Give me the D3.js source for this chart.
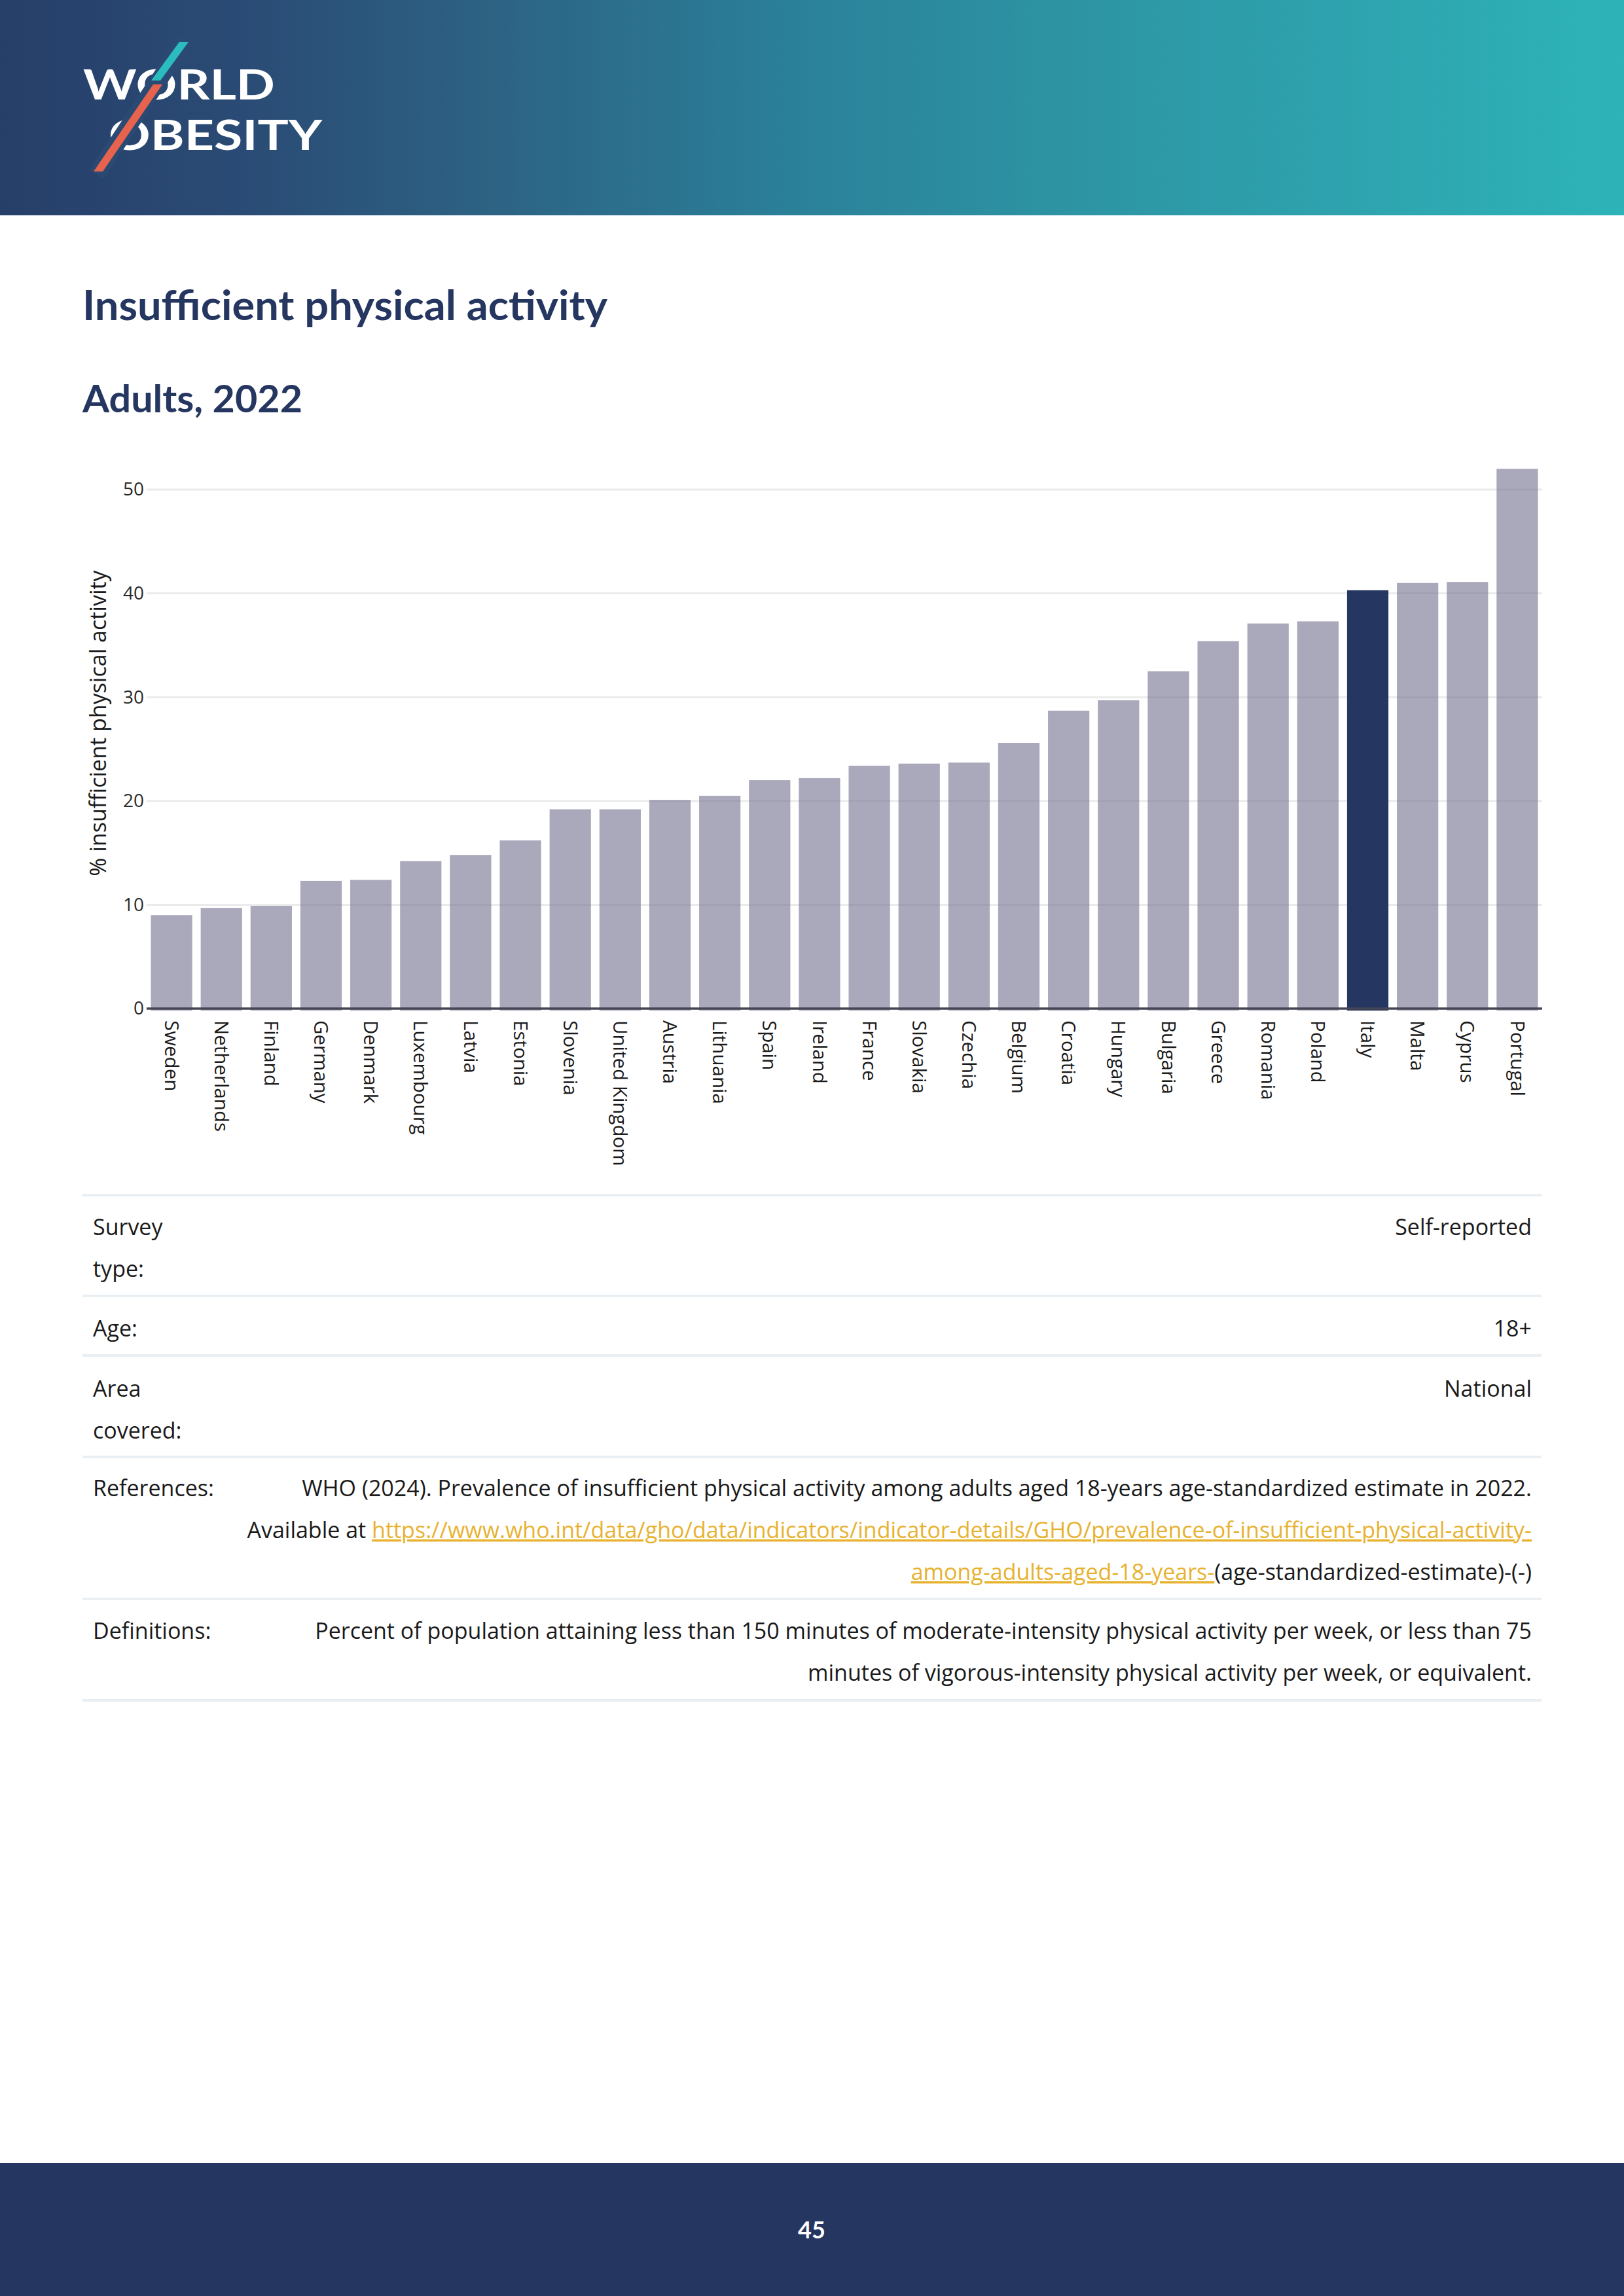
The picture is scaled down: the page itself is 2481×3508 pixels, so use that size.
<!DOCTYPE html>
<html>
<head>
<meta charset="utf-8">
<script src="https://cdn.jsdelivr.net/npm/d3@7"></script>
<style>
  html, body { margin: 0; padding: 0; background: #ffffff; }
  svg { display: block; }
</style>
</head>
<body>
<script>
// ---------------- DATA ----------------
const countries = ["Sweden","Netherlands","Finland","Germany","Denmark","Luxembourg","Latvia","Estonia","Slovenia","United Kingdom","Austria","Lithuania","Spain","Ireland","France","Slovakia","Czechia","Belgium","Croatia","Hungary","Bulgaria","Greece","Romania","Poland","Italy","Malta","Cyprus","Portugal"];
const values = [9.0, 9.7, 9.9, 12.3, 12.4, 14.2, 14.8, 16.2, 19.2, 19.2, 20.1, 20.5, 22.0, 22.2, 23.4, 23.6, 23.7, 25.6, 28.7, 29.7, 32.5, 35.4, 37.1, 37.3, 40.3, 41.0, 41.1, 52.0];
const highlighted = ["Italy"];
const yTicks = [0, 10, 20, 30, 40, 50];
const yTitle = "% insufficient physical activity";
const pageTitle = "Insufficient physical activity";
const subTitle = "Adults, 2022";
const pageNumber = "45";
const logoLines = ["WORLD", "OBESITY"];
const tableRows = [
  { label: ["Survey", "type:"], value: [[{t: "Self-reported"}]] },
  { label: ["Age:"], value: [[{t: "18+"}]] },
  { label: ["Area", "covered:"], value: [[{t: "National"}]] },
  { label: ["References:"], value: [
      [{t: "WHO (2024). Prevalence of insufficient physical activity among adults aged 18-years age-standardized estimate in 2022."}],
      [{t: "Available at "}, {t: "https://www.who.int/data/gho/data/indicators/indicator-details/GHO/prevalence-of-insufficient-physical-activity-", link: true}],
      [{t: "among-adults-aged-18-years-", link: true}, {t: "(age-standardized-estimate)-(-)"}]
  ]},
  { label: ["Definitions:"], value: [
      [{t: "Percent of population attaining less than 150 minutes of moderate-intensity physical activity per week, or less than 75"}],
      [{t: "minutes of vigorous-intensity physical activity per week, or equivalent."}]
  ]}
];

// ---------------- LAYOUT ----------------
const W = 2481, H = 3508;
const FONT = "'Open Sans', 'Noto Sans', 'DejaVu Sans', sans-serif";
const TFONT = "Lato, 'Open Sans', sans-serif";
const NAVY = "#253660";

const svg = d3.select("body").append("svg")
  .attr("width", W).attr("height", H)
  .attr("viewBox", `0 0 ${W} ${H}`)
  .style("font-family", FONT);

const defs = svg.append("defs");
const grad = defs.append("linearGradient").attr("id", "hdr").attr("x1", "0").attr("x2", "1").attr("y1", "0").attr("y2", "0");
[[0, "#263f69"], [0.15, "#2a4b75"], [0.3, "#2d6283"], [0.45, "#2b7a95"], [0.5, "#2b829a"], [0.65, "#2d93a3"], [0.85, "#2ea5b0"], [1, "#2db3b8"]]
  .forEach(([o, c]) => grad.append("stop").attr("offset", o).attr("stop-color", c));

// Header
svg.append("rect").attr("x", 0).attr("y", 0).attr("width", W).attr("height", 329).attr("fill", "url(#hdr)");

// Logo
const logo = svg.append("g").style("font-family", TFONT);
const logoText = logo.append("text").attr("fill", "#ffffff").attr("font-size", 64).attr("font-weight", 700);
logoText.append("tspan").attr("x", 127).attr("y", 152)
  .attr("textLength", 293).attr("lengthAdjust", "spacingAndGlyphs").text(logoLines[0]);
logoText.append("tspan").attr("x", 166).attr("y", 229)
  .attr("textLength", 326).attr("lengthAdjust", "spacingAndGlyphs").text(logoLines[1]);
// gap behind slash
logo.append("line").attr("x1", 284).attr("y1", 60).attr("x2", 148).attr("y2", 266)
  .attr("stroke", "#2a4a74").attr("stroke-width", 26);
logo.append("polygon").attr("points", "274,64 288,64 245,123 231,123").attr("fill", "#2bbcbf");
logo.append("polygon").attr("points", "234,129 248,129 157,262 143,262").attr("fill", "#e8634d");

// Titles
svg.append("text").attr("x", 126).attr("y", 489).attr("fill", NAVY).style("font-family", TFONT)
  .attr("font-size", 63).attr("font-weight", 700)
  .attr("textLength", 802).attr("lengthAdjust", "spacingAndGlyphs").text(pageTitle);
svg.append("text").attr("x", 126).attr("y", 630).attr("fill", NAVY).style("font-family", TFONT)
  .attr("font-size", 57).attr("font-weight", 700)
  .attr("textLength", 336).attr("lengthAdjust", "spacingAndGlyphs").text(subTitle);

// ---------------- CHART ----------------
const plotLeft = 224, plotRight = 2356;
const x = d3.scaleBand().domain(countries).range([plotLeft, plotRight]).paddingInner(0.17).paddingOuter(0.085);
const y = d3.scaleLinear().domain([0, 50]).range([1541, 748]);

const chart = svg.append("g");

// gridlines
chart.append("g").selectAll("line").data(yTicks.filter(d => d > 0)).join("line")
  .attr("x1", plotLeft).attr("x2", plotRight)
  .attr("y1", d => y(d)).attr("y2", d => y(d))
  .attr("stroke", "#ebebeb").attr("stroke-width", 3);

// y axis labels
const yAxis = d3.axisLeft(y).tickValues(yTicks).tickSize(0).tickPadding(0).tickFormat(d3.format("d"));
const yg = chart.append("g").attr("transform", `translate(${plotLeft - 4},0)`).call(yAxis);
yg.select(".domain").remove();
yg.selectAll("text").attr("font-size", 28).attr("fill", "#2a2a2a").attr("font-family", FONT);

// bars
chart.append("g").selectAll("rect").data(countries).join("rect")
  .attr("x", d => x(d))
  .attr("width", x.bandwidth())
  .attr("y", (d, i) => y(values[i]))
  .attr("height", (d, i) => y(0) - y(values[i]) + 3)
  .attr("fill", d => highlighted.includes(d) ? NAVY : "rgb(113,110,142)")
  .attr("fill-opacity", d => highlighted.includes(d) ? 1 : 0.6);

// x axis
const xAxis = d3.axisBottom(x).tickSize(0).tickPadding(0);
const xg = chart.append("g").attr("transform", `translate(0,${y(0)})`).call(xAxis);
xg.select(".domain").attr("stroke", "#444654").attr("stroke-width", 3.5).attr("d", `M${plotLeft},0H${plotRight}`);
xg.selectAll(".tick text")
  .attr("font-size", 29.5).attr("fill", "#1a1a1a").attr("font-family", FONT)
  .attr("text-anchor", "start")
  .attr("transform", "translate(0,18) rotate(90)")
  .attr("x", 0).attr("y", 0).attr("dy", "0.35em");

// y title
chart.append("text")
  .attr("transform", `translate(149,1105) rotate(-90)`)
  .attr("text-anchor", "middle").attr("dominant-baseline", "central")
  .attr("font-size", 34).attr("fill", "#1a1a1a").text(yTitle);

// ---------------- TABLE ----------------
const tLeft = 126, tRight = 2355, labelX = 142, valueX = 2340;
const sepY = [1826, 1980, 2071, 2226, 2443, 2598];
const rowFirstBaseline = [1887, 2042, 2134, 2286, 2504];
const lineGap = 64;

svg.append("g").selectAll("line").data(sepY).join("line")
  .attr("x1", tLeft).attr("x2", tRight).attr("y1", d => d).attr("y2", d => d)
  .attr("stroke", "#e9eff3").attr("stroke-width", 4);

const table = svg.append("g").attr("font-size", 34).attr("fill", "#1a1a1a");
tableRows.forEach((row, ri) => {
  const b = rowFirstBaseline[ri];
  row.label.forEach((l, li) => {
    table.append("text").attr("x", labelX).attr("y", b + li * lineGap).text(l);
  });
  row.value.forEach((segs, li) => {
    const t = table.append("text").attr("x", valueX).attr("y", b + li * lineGap).attr("text-anchor", "end");
    segs.forEach(s => {
      const ts = t.append("tspan").text(s.t);
      if (s.link) ts.attr("fill", "#e8b231").attr("text-decoration", "underline");
    });
  });
});

// ---------------- FOOTER ----------------
svg.append("rect").attr("x", 0).attr("y", 3305).attr("width", W).attr("height", H - 3305).attr("fill", NAVY);
svg.append("text").attr("x", 1240).attr("y", 3420).attr("text-anchor", "middle").style("font-family", TFONT)
  .attr("fill", "#ffffff").attr("font-size", 36).attr("font-weight", 700).text(pageNumber);
</script>
</body>
</html>
